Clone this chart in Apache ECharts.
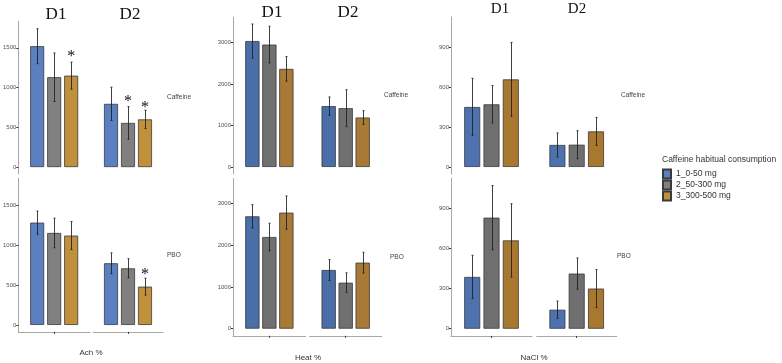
<!DOCTYPE html>
<html>
<head>
<meta charset="utf-8">
<script src="https://cdn.jsdelivr.net/npm/echarts@6/dist/echarts.min.js"></script>
<style>
  html, body { margin: 0; padding: 0; background: #fff; }
  #chart { width: 782px; height: 363px; }
</style>
</head>
<body>
<div id="chart"></div>
<script>
const panelNames = ['Ach %', 'Heat %', 'NaCl %'];
const rowNames = ['Caffeine', 'PBO'];
const groupNames = ['D1', 'D2'];
const doseNames = ['1_0-50 mg', '2_50-300 mg', '3_300-500 mg'];
const legendTitle = 'Caffeine habitual consumption';

const achTicks = [0, 500, 1000, 1500];
const heatTicks = [0, 1000, 2000, 3000];
const naclTicks = [0, 300, 600, 900];

// each array: [D1, D2], inside [dose 1, dose 2, dose 3]
const achCaffeineMean = [[1520, 1130, 1150], [795, 555, 600]];
const achCaffeineErr = [[220, 305, 170], [210, 205, 115]];
const achCaffeineStar = [[null, null, 1443], [null, 866, 790]];
const achPboMean = [[1279, 1150, 1117], [771, 708, 479]];
const achPboErr = [[145, 185, 175], [130, 120, 105]];
const achPboStar = [[null, null, null], [null, null, 681]];

const heatCaffeineMean = [[3030, 2945, 2360], [1465, 1415, 1190]];
const heatCaffeineErr = [[410, 440, 295], [220, 445, 165]];
const heatPboMean = [[2696, 2200, 2784], [1408, 1104, 1584]];
const heatPboErr = [[280, 330, 400], [250, 235, 250]];

const naclCaffeineMean = [[450, 470, 657], [165, 167, 267]];
const naclCaffeineErr = [[215, 140, 277], [90, 105, 105]];
const naclPboMean = [[387, 830, 660], [142, 412, 300]];
const naclPboErr = [[162, 240, 274], [65, 117, 142]];

const noStar = [[null, null, null], [null, null, null]];

const panels = [
  { ticks: achTicks, rows: [[achCaffeineMean, achCaffeineErr, achCaffeineStar], [achPboMean, achPboErr, achPboStar]] },
  { ticks: heatTicks, rows: [[heatCaffeineMean, heatCaffeineErr, noStar], [heatPboMean, heatPboErr, noStar]] },
  { ticks: naclTicks, rows: [[naclCaffeineMean, naclCaffeineErr, noStar], [naclPboMean, naclPboErr, noStar]] }
];

// layout / look of each panel
const layout = [
  {
    cols: [[18, 72], [93, 70]], rows: [[21.4, 152.6], [178.4, 153.5]],
    min: -87, max: 1832, barW: 14, gap: 3,
    colors: ['#5a80c2', '#808080', '#c0903c'],
    heads: [[56, 15], [130, 15]], headSize: 17,
    strips: [[167, 98], [167, 256]], title: [91, 353]
  },
  {
    cols: [[233, 72.7], [309.7, 72]], rows: [[17.3, 156.8], [178.6, 157.2]],
    min: -171, max: 3601, barW: 14.3, gap: 2.7,
    colors: ['#4a6ea8', '#707070', '#a87a35'],
    heads: [[272, 12.5], [348, 12.5]], headSize: 17,
    strips: [[384, 96], [390, 258]], title: [308, 358]
  },
  {
    cols: [[451, 81], [536.7, 80]], rows: [[16.9, 157.2], [178.1, 157.8]],
    min: -53.6, max: 1125.6, barW: 16, gap: 3.3,
    colors: ['#4e72b0', '#6f6f6f', '#a9782f'],
    heads: [[500, 9], [577, 9]], headSize: 15,
    strips: [[621, 96], [617, 257]], title: [534, 358]
  }
];

const grid = [], xAxis = [], yAxis = [], series = [], graphic = [];
const sans = 'Liberation Sans, Arial, sans-serif';
const serif = 'Liberation Serif, Times New Roman, serif';

panels.forEach((panel, p) => {
  const L = layout[p];
  panel.rows.forEach((rowData, r) => {
    const [means, errs, stars] = rowData;
    groupNames.forEach((gName, g) => {
      const idx = grid.length;
      grid.push({ left: L.cols[g][0], width: L.cols[g][1], top: L.rows[r][0], height: L.rows[r][1] });
      xAxis.push({
        type: 'category', gridIndex: idx, data: [gName],
        axisLine: { show: r === 1, onZero: false, lineStyle: { color: '#a8a8a8', width: 1 } },
        axisTick: { show: r === 1, alignWithLabel: true, length: 2, lineStyle: { color: '#333' } },
        axisLabel: { show: false }, splitLine: { show: false }
      });
      yAxis.push({
        type: 'value', gridIndex: idx, min: L.min, max: L.max, show: g === 0,
        axisLine: { show: true, lineStyle: { color: '#a8a8a8', width: 1 } },
        axisTick: { show: true, length: 2, customValues: panel.ticks, lineStyle: { color: '#333' } },
        axisLabel: {
          customValues: panel.ticks, fontSize: 6, color: '#555', margin: 2, fontFamily: sans,
          formatter: (v) => String(v)
        },
        splitLine: { show: false }
      });
      doseNames.forEach((dName, d) => {
        series.push({
          type: 'bar', name: dName, xAxisIndex: idx, yAxisIndex: idx,
          data: [means[g][d]], barWidth: L.barW, barGap: (L.gap / L.barW * 100) + '%',
          itemStyle: { color: L.colors[d], borderColor: '#3a3a3a', borderWidth: 0.8 },
          silent: true, animation: false
        });
      });
      const step = L.barW + L.gap;
      series.push({
        type: 'custom', xAxisIndex: idx, yAxisIndex: idx, z: 5, silent: true, animation: false,
        data: doseNames.map((_, d) => [0, means[g][d] - errs[g][d], means[g][d] + errs[g][d], (d - 1) * step]),
        encode: { x: 0, y: [1, 2] },
        renderItem: (params, api) => {
          const lo = api.coord([api.value(0), api.value(1)]);
          const hi = api.coord([api.value(0), api.value(2)]);
          const x = Math.round(lo[0] + api.value(3)) + 0.5;
          const st = { stroke: '#1e1e1e', lineWidth: 1, opacity: 0.85 };
          return {
            type: 'group', children: [
              { type: 'line', shape: { x1: x, y1: lo[1], x2: x, y2: hi[1] }, style: st },
              { type: 'line', shape: { x1: x - 1, y1: lo[1], x2: x + 1, y2: lo[1] }, style: st },
              { type: 'line', shape: { x1: x - 1, y1: hi[1], x2: x + 1, y2: hi[1] }, style: st }
            ]
          };
        }
      });
      const starData = [];
      doseNames.forEach((_, d) => {
        if (stars[g][d] != null) starData.push([0, stars[g][d], (d - 1) * step]);
      });
      if (starData.length) {
        series.push({
          type: 'custom', xAxisIndex: idx, yAxisIndex: idx, z: 6, silent: true, animation: false,
          data: starData, encode: { x: 0, y: 1 },
          renderItem: (params, api) => {
            const c = api.coord([api.value(0), api.value(1)]);
            return {
              type: 'text', x: c[0] + api.value(2), y: c[1] + 4,
              style: { text: '*', font: '16px ' + serif, fill: '#111', align: 'center', verticalAlign: 'middle' }
            };
          }
        });
      }
    });
    graphic.push({
      type: 'text', left: L.strips[r][0], top: L.strips[r][1] - 4,
      style: { text: rowNames[r], font: '6.5px ' + sans, fill: '#444' }
    });
  });
  L.heads.forEach((h, g) => {
    graphic.push({
      type: 'text', x: h[0], y: h[1],
      style: { text: groupNames[g], font: L.headSize + 'px ' + serif, fill: '#111', align: 'center', verticalAlign: 'middle' }
    });
  });
  graphic.push({
    type: 'text', x: L.title[0], y: L.title[1],
    style: { text: panelNames[p], font: '8px ' + sans, fill: '#333', align: 'center', verticalAlign: 'middle' }
  });
});

graphic.push({
  type: 'text', x: 662, y: 160,
  style: { text: legendTitle, font: '8.5px ' + sans, fill: '#333', verticalAlign: 'middle' }
});

const chart = echarts.init(document.getElementById('chart'), null, { renderer: 'canvas' });
chart.setOption({
  animation: false,
  grid, xAxis, yAxis, series, graphic,
  legend: {
    data: doseNames, orient: 'vertical', left: 662, top: 168.5,
    itemWidth: 8, itemHeight: 9, itemGap: 0, padding: 0, icon: 'rect',
    textStyle: { fontSize: 8.5, color: '#333', fontFamily: sans },
    selectedMode: false
  }
});
</script>
</body>
</html>
